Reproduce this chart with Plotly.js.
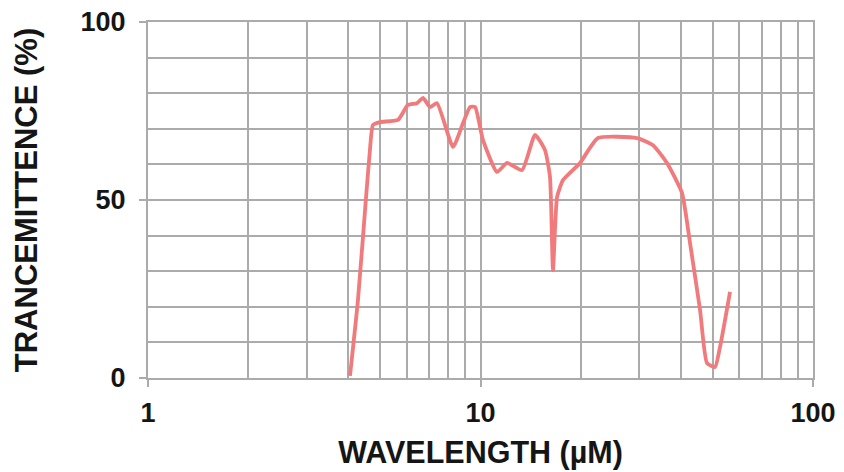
<!DOCTYPE html>
<html>
<head>
<meta charset="utf-8">
<script src="https://cdn.plot.ly/plotly-3.0.1.min.js"></script>
<style>
  html, body { margin: 0; padding: 0; background: #ffffff; }
  #chart { width: 844px; height: 472px; }
</style>
</head>
<body>
<div id="chart"></div>
<script>
// Wavelength (µm) and transmittance (%)
const wavelength = [4.05, 4.28, 4.52, 4.65, 4.75, 4.99, 5.65, 6.05, 6.44, 6.72, 7.05, 7.40,
  8.27, 8.86, 9.30, 9.63, 10.17, 11.21, 12.02, 13.33, 14.59, 15.63, 16.18, 16.52,
  16.99, 17.71, 19.92, 22.56, 29.56, 33.03, 36.38, 40.36, 42.67, 45.74, 48.0, 50.73,
  52.52, 56.3];
const transmittance = [0.6, 21.9, 50, 64, 71.1, 71.9, 72.5, 76.7, 77.2, 78.7, 76.1, 77.2,
  64.9, 71.6, 76.1, 76.1, 66.9, 57.9, 60.4, 58.4, 68.3, 64, 56.5, 30.3,
  50.8, 55.6, 60.4, 67.4, 67.4, 65.4, 60.4, 52, 37.9, 19.1, 4.2, 3.1,
  8.7, 24.2];

const xTickVals = [1, 10, 100];
const xTickText = ['1', '10', '100'];
const xMinorVals = [2, 3, 4, 5, 6, 7, 8, 9, 20, 30, 40, 50, 60, 70, 80, 90];
const yTickVals = [0, 50, 100];
const yTickText = ['0', '50', '100'];
const yMinorVals = [10, 20, 30, 40, 60, 70, 80, 90];

const xTitle = 'WAVELENGTH (µM)';
const yTitle = 'TRANCEMITTENCE (%)';

const gridColor = '#ababab';
const textFont = { family: 'Liberation Sans, Arial, sans-serif', size: 27, color: '#151515', weight: 700 };

const trace = {
  x: wavelength,
  y: transmittance,
  type: 'scatter',
  mode: 'lines',
  line: { color: '#f07a7c', width: 3.8, shape: 'spline', smoothing: 0.5 },
  hoverinfo: 'skip'
};

const layout = {
  width: 844,
  height: 472,
  margin: { l: 148, r: 31, t: 22, b: 94 },
  paper_bgcolor: '#ffffff',
  plot_bgcolor: '#ffffff',
  showlegend: false,
  font: textFont,
  xaxis: {
    type: 'log',
    range: [0, 2],
    tickmode: 'array',
    tickvals: xTickVals,
    ticktext: xTickText,
    ticks: 'outside',
    ticklen: 7,
    tickwidth: 2,
    tickcolor: gridColor,
    ticklabelstandoff: 3,
    tickfont: textFont,
    showgrid: true,
    gridcolor: gridColor,
    gridwidth: 2,
    showline: true,
    linecolor: gridColor,
    linewidth: 2,
    mirror: true,
    zeroline: false,
    minor: { tickmode: 'array', tickvals: xMinorVals, showgrid: true, gridcolor: gridColor, gridwidth: 2, ticks: '' },
    title: { text: xTitle, font: Object.assign({}, textFont, { size: 30.5 }), standoff: 14 },
    automargin: false
  },
  yaxis: {
    range: [0, 100],
    tickmode: 'array',
    tickvals: yTickVals,
    ticktext: yTickText,
    ticks: 'outside',
    ticklen: 7,
    tickwidth: 2,
    tickcolor: gridColor,
    ticklabelstandoff: 8,
    tickfont: textFont,
    showgrid: true,
    gridcolor: gridColor,
    gridwidth: 2,
    showline: true,
    linecolor: gridColor,
    linewidth: 2,
    mirror: true,
    zeroline: false,
    minor: { tickmode: 'array', tickvals: yMinorVals, showgrid: true, gridcolor: gridColor, gridwidth: 2, ticks: '' },
    title: { text: yTitle, font: Object.assign({}, textFont, { size: 31 }), standoff: 34 },
    automargin: false
  }
};

Plotly.newPlot('chart', [trace], layout, { displayModeBar: false, staticPlot: true });
</script>
</body>
</html>
